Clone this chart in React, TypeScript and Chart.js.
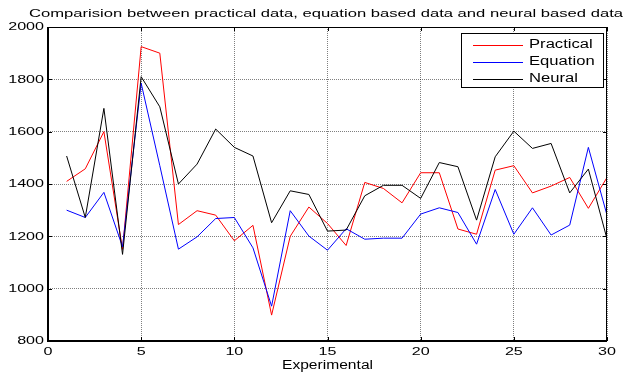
import React, { useEffect, useRef } from "react";
import { Chart, registerables } from "chart.js";

Chart.register(...registerables);

const experiments = [1, 2, 3, 4, 5, 6, 7, 8, 9, 10, 11, 12, 13, 14, 15, 16, 17, 18, 19, 20, 21, 22, 23, 24, 25, 26, 27, 28, 29, 30];
const practical = [1410, 1458, 1600, 1150, 1925, 1900, 1245, 1298, 1281, 1183, 1242, 899, 1200, 1312, 1249, 1165, 1406, 1383, 1328, 1443, 1443, 1228, 1208, 1453, 1470, 1366, 1392, 1425, 1307, 1425];
const equation = [1300, 1272, 1368, 1160, 1785, 1470, 1151, 1198, 1268, 1272, 1156, 933, 1298, 1201, 1147, 1229, 1189, 1193, 1193, 1285, 1309, 1291, 1170, 1379, 1208, 1309, 1205, 1243, 1540, 1281];
const neural = [1507, 1272, 1689, 1131, 1810, 1695, 1400, 1476, 1610, 1540, 1507, 1252, 1374, 1360, 1220, 1224, 1355, 1395, 1395, 1345, 1482, 1466, 1262, 1504, 1602, 1536, 1555, 1366, 1457, 1190];
const xTicks = [0, 5, 10, 15, 20, 25, 30];
const yTicks = [800, 1000, 1200, 1400, 1600, 1800, 2000];
const seriesNames = ["Practical", "Equation", "Neural"];
const seriesColors = ["#ff0000", "#0000ff", "#000000"];
const titleText = "Comparision between practical data, equation based data and neural based data";
const xLabel = "Experimental";

const FONT = "'Liberation Sans', Arial, sans-serif";

function drawText(ctx: CanvasRenderingContext2D, text: string, x: number, y: number, align: CanvasTextAlign, sx: number, size: number) {
  ctx.save();
  ctx.font = `${size}px ${FONT}`;
  ctx.translate(x, y);
  ctx.scale(sx, 1);
  ctx.textAlign = align;
  ctx.textBaseline = "middle";
  ctx.fillStyle = "#000";
  ctx.fillText(text, 0, 0);
  ctx.restore();
}

const decorPlugin = {
  id: "decor",
  afterDraw(chart: any) {
    const ctx: CanvasRenderingContext2D = chart.ctx;
    const { left, right, top, bottom } = chart.chartArea;
    const xs = chart.scales.x;
    const ys = chart.scales.y;
    ctx.save();
    ctx.strokeStyle = "#000";
    ctx.lineWidth = 1;
    ctx.strokeRect(left + 0.5, top + 0.5, right - left - 1, bottom - top);
    ctx.lineWidth = 2;
    ctx.beginPath();
    ctx.moveTo(left, top);
    ctx.lineTo(left, bottom);
    ctx.lineTo(right, bottom);
    ctx.stroke();
    ctx.lineWidth = 1;
    ctx.beginPath();
    xTicks.forEach((v) => {
      const px = Math.round(xs.getPixelForValue(v)) + 0.5;
      ctx.moveTo(px, bottom);
      ctx.lineTo(px, bottom - 4);
      ctx.moveTo(px, top);
      ctx.lineTo(px, top + 4);
    });
    yTicks.forEach((v) => {
      const py = Math.round(ys.getPixelForValue(v)) + 0.5;
      ctx.moveTo(left, py);
      ctx.lineTo(left + 4, py);
      ctx.moveTo(right, py);
      ctx.lineTo(right - 4, py);
    });
    ctx.stroke();
    ctx.restore();

    xTicks.forEach((v) => {
      drawText(ctx, String(v), xs.getPixelForValue(v), bottom + 11, "center", 1.4, 11.5);
    });
    yTicks.forEach((v) => {
      drawText(ctx, String(v), left - 4, ys.getPixelForValue(v), "right", 1.4, 11.5);
    });
    drawText(ctx, xLabel, (left + right) / 2, 366, "center", 1.3, 12);
    ctx.save();
    ctx.font = `10.5px ${FONT}`;
    const tw = ctx.measureText(titleText).width;
    ctx.restore();
    drawText(ctx, titleText, 326, 14, "center", 594 / tw, 10.5);

    const bx = 461, by = 33, bw = 142, bh = 54;
    ctx.save();
    ctx.fillStyle = "#fff";
    ctx.fillRect(bx, by, bw, bh);
    ctx.strokeStyle = "#000";
    ctx.lineWidth = 1;
    ctx.strokeRect(bx + 0.5, by + 0.5, bw, bh);
    ctx.restore();
    const rows = [44.5, 62, 79];
    chart.data.datasets.forEach((ds: any, i: number) => {
      ctx.save();
      ctx.strokeStyle = ds.borderColor;
      ctx.lineWidth = 1;
      ctx.beginPath();
      ctx.moveTo(473, Math.round(rows[i]) + 0.5);
      ctx.lineTo(523, Math.round(rows[i]) + 0.5);
      ctx.stroke();
      ctx.restore();
      drawText(ctx, ds.label, 529, rows[i], "left", 1.33, 12.5);
    });
  },
};

export default function App() {
  const canvasRef = useRef<HTMLCanvasElement | null>(null);
  useEffect(() => {
    document.body.style.margin = "0";
    const canvas = canvasRef.current!;
    const series = [practical, equation, neural];
    const chart = new Chart(canvas, {
      type: "line",
      data: {
        datasets: series.map((vals, i) => ({
          label: seriesNames[i],
          data: experiments.map((x, j) => ({ x, y: vals[j] })),
          borderColor: seriesColors[i],
          backgroundColor: seriesColors[i],
          borderWidth: 1,
          pointRadius: 0,
          tension: 0,
          fill: false,
          order: 2 - i,
        })),
      },
      options: {
        responsive: false,
        animation: false,
        layout: { padding: { top: 27, right: 17, left: 0, bottom: 0 } },
        plugins: { legend: { display: false }, tooltip: { enabled: false }, title: { display: false } },
        scales: {
          x: {
            type: "linear",
            min: 0,
            max: 30,
            ticks: { display: false, stepSize: 5 },
            grid: { color: "rgba(0,0,0,0.5)", lineWidth: 1, drawTicks: false },
            border: { display: false, dash: [1, 1] },
            afterFit: (s: any) => { s.height = 33; },
          },
          y: {
            type: "linear",
            min: 800,
            max: 2000,
            ticks: { display: false, stepSize: 200 },
            grid: { color: "rgba(0,0,0,0.5)", lineWidth: 1, drawTicks: false },
            border: { display: false, dash: [1, 1] },
            afterFit: (s: any) => { s.width = 48; },
          },
        },
      },
      plugins: [decorPlugin],
    } as any);
    return () => chart.destroy();
  }, []);
  return (
    <div style={{ position: "absolute", left: 0, top: 0, width: 624, height: 374, background: "#fff" }}>
      <canvas ref={canvasRef} width={624} height={374} />
    </div>
  );
}
